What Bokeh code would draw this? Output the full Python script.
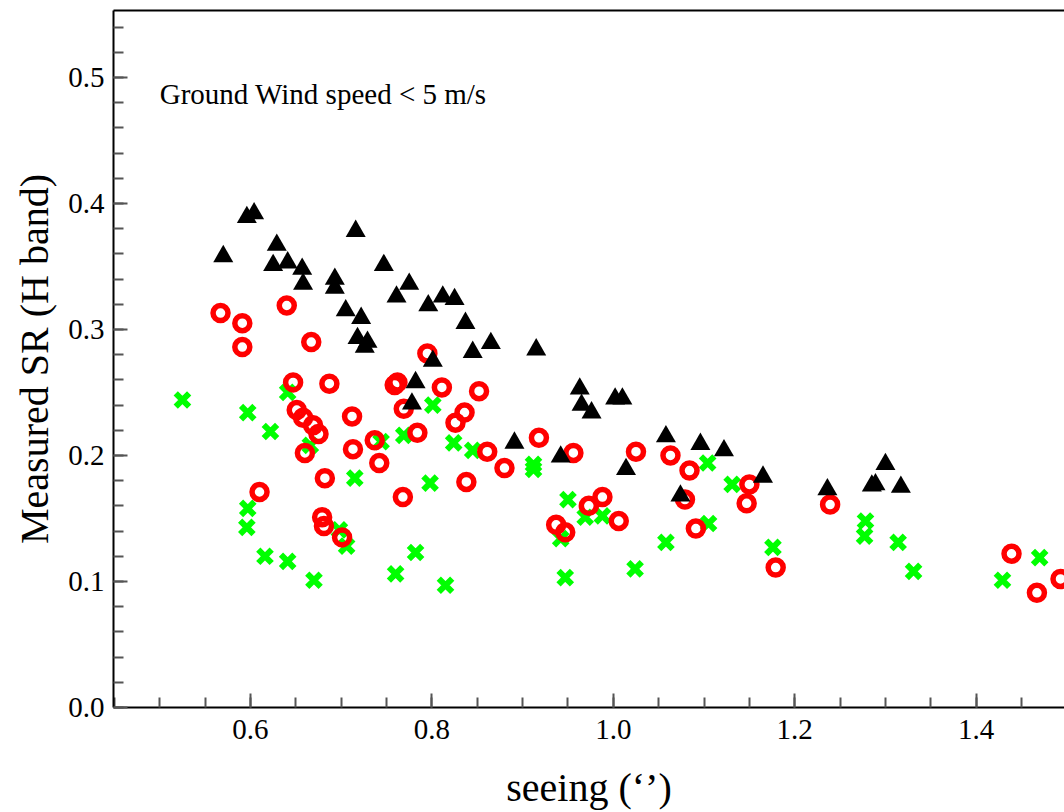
from bokeh.plotting import figure
from bokeh.models import FixedTicker, Label, LinearAxis, Range1d, NumeralTickFormatter
from bokeh.embed import file_html
from bokeh.resources import INLINE

# Black triangles
tri_x = [0.570, 0.596, 0.604, 0.629, 0.625, 0.641, 0.657, 0.658, 0.716, 0.693,
         0.693, 0.747, 0.705, 0.722, 0.718, 0.729, 0.726, 0.761, 0.775, 0.796,
         0.812, 0.825, 0.801, 0.782, 0.778, 0.837, 0.845, 0.865, 0.915, 0.963,
         0.965, 0.976, 1.002, 1.010, 0.891, 0.942, 1.014, 1.058, 1.096, 1.122,
         1.074, 1.165, 1.236, 1.300, 1.285, 1.289, 1.317]
tri_y = [0.358, 0.389, 0.392, 0.367, 0.351, 0.353, 0.348, 0.336, 0.378, 0.340,
         0.333, 0.351, 0.315, 0.309, 0.293, 0.290, 0.286, 0.326, 0.336, 0.319,
         0.326, 0.324, 0.275, 0.258, 0.241, 0.305, 0.282, 0.289, 0.284, 0.253,
         0.240, 0.234, 0.245, 0.245, 0.210, 0.199, 0.189, 0.215, 0.209, 0.204,
         0.168, 0.183, 0.173, 0.193, 0.176, 0.177, 0.175]

# Red open circles
ring_x = [0.567, 0.591, 0.591, 0.640, 0.667, 0.647, 0.687, 0.759, 0.762, 0.795,
          0.811, 0.852, 0.651, 0.658, 0.669, 0.675, 0.660, 0.712, 0.713, 0.737,
          0.742, 0.769, 0.784, 0.682, 0.610, 0.679, 0.681, 0.701, 0.768, 0.836,
          0.826, 0.861, 0.880, 0.838, 0.918, 0.956, 1.025, 1.063, 1.084, 1.079,
          0.988, 0.973, 1.006, 0.937, 0.947, 1.091, 1.150, 1.147, 1.239, 1.179,
          1.439, 1.467, 1.493]
ring_y = [0.313, 0.305, 0.286, 0.319, 0.290, 0.258, 0.257, 0.256, 0.258, 0.281,
          0.254, 0.251, 0.236, 0.230, 0.224, 0.217, 0.202, 0.231, 0.205, 0.212,
          0.194, 0.237, 0.218, 0.182, 0.171, 0.151, 0.144, 0.135, 0.167, 0.234,
          0.226, 0.203, 0.190, 0.179, 0.214, 0.202, 0.203, 0.200, 0.188, 0.165,
          0.167, 0.160, 0.148, 0.145, 0.139, 0.142, 0.177, 0.162, 0.161, 0.111,
          0.122, 0.091, 0.102]

# Green crosses
cross_x = [0.525, 0.597, 0.622, 0.641, 0.666, 0.744, 0.769, 0.801, 0.824, 0.715,
           0.798, 0.597, 0.596, 0.698, 0.706, 0.616, 0.641, 0.670, 0.782, 0.760,
           0.815, 0.845, 0.912, 0.912, 0.950, 0.969, 0.988, 0.942, 0.947, 1.024,
           1.058, 1.104, 1.131, 1.105, 1.176, 1.278, 1.277, 1.314, 1.331, 1.429,
           1.470]
cross_y = [0.244, 0.234, 0.219, 0.250, 0.208, 0.211, 0.216, 0.240, 0.210, 0.182,
           0.178, 0.158, 0.143, 0.141, 0.128, 0.120, 0.116, 0.101, 0.123, 0.106,
           0.097, 0.204, 0.193, 0.189, 0.165, 0.151, 0.152, 0.134, 0.103, 0.110,
           0.131, 0.194, 0.177, 0.146, 0.127, 0.148, 0.136, 0.131, 0.108, 0.101,
           0.119]

x_major = [0.6, 0.8, 1.0, 1.2, 1.4]
x_minor = [0.45, 0.5, 0.55, 0.6, 0.65, 0.7, 0.75, 0.8, 0.85, 0.9, 0.95, 1.0,
           1.05, 1.1, 1.15, 1.2, 1.25, 1.3, 1.35, 1.4, 1.45]
y_major = [0.0, 0.1, 0.2, 0.3, 0.4, 0.5]
y_minor = [round(0.02 * i, 2) for i in range(28)]

SERIF = "Liberation Serif"

p = figure(width=1064, height=812, output_backend="svg", toolbar_location=None,
           x_range=Range1d(0.449, 1.4974), y_range=Range1d(0.0, 0.5531),
           min_border_left=113, min_border_right=0, min_border_top=10,
           min_border_bottom=104, x_axis_label="seeing (\u2018\u2019)",
           y_axis_label="Measured SR (H band)")
p.outline_line_color = None
p.grid.visible = False
p.background_fill_color = "white"
p.border_fill_color = "white"

for ax, maj, mnr in ((p.xaxis[0], x_major, x_minor), (p.yaxis[0], y_major, y_minor)):
    ax.ticker = FixedTicker(ticks=maj, minor_ticks=mnr)
    ax.formatter = NumeralTickFormatter(format="0.0")
    ax.axis_line_width = 2
    ax.axis_line_color = "black"
    ax.major_tick_in = 14
    ax.major_tick_out = 0
    ax.minor_tick_in = 10
    ax.minor_tick_out = 0
    ax.major_tick_line_color = "#555555"
    ax.minor_tick_line_color = "#555555"
    ax.major_tick_line_width = 2
    ax.minor_tick_line_width = 2
    ax.major_label_text_font = SERIF
    ax.major_label_text_font_size = "29px"
    ax.major_label_text_color = "black"
    ax.axis_label_text_font = SERIF
    ax.axis_label_text_font_size = "40px"
    ax.axis_label_text_font_style = "normal"
    ax.axis_label_text_color = "black"

p.xaxis[0].major_label_standoff = 12
p.xaxis[0].axis_label_standoff = 23
p.yaxis[0].major_label_standoff = 9
p.yaxis[0].axis_label_standoff = 8

top = LinearAxis(ticker=FixedTicker(ticks=[]), axis_line_width=2,
                 axis_line_color="black", major_tick_in=0, major_tick_out=0,
                 minor_tick_in=0, minor_tick_out=0, major_label_text_font_size="0px",
                 major_label_standoff=0)
p.add_layout(top, "above")

p.scatter(cross_x, cross_y, marker="x", size=19, line_color="#00ff00", line_width=6)
p.scatter(ring_x, ring_y, marker="circle", size=15, fill_color=None,
          line_color="#ff0000", line_width=5.5)
p.scatter(tri_x, tri_y, marker="triangle", size=20, fill_color="black",
          line_color=None)

p.add_layout(Label(x=0.5, y=0.474, text="Ground Wind speed < 5 m/s",
                   text_font=SERIF, text_font_size="29px", text_color="black"))

open("out.html", "w").write(file_html(p, INLINE))
